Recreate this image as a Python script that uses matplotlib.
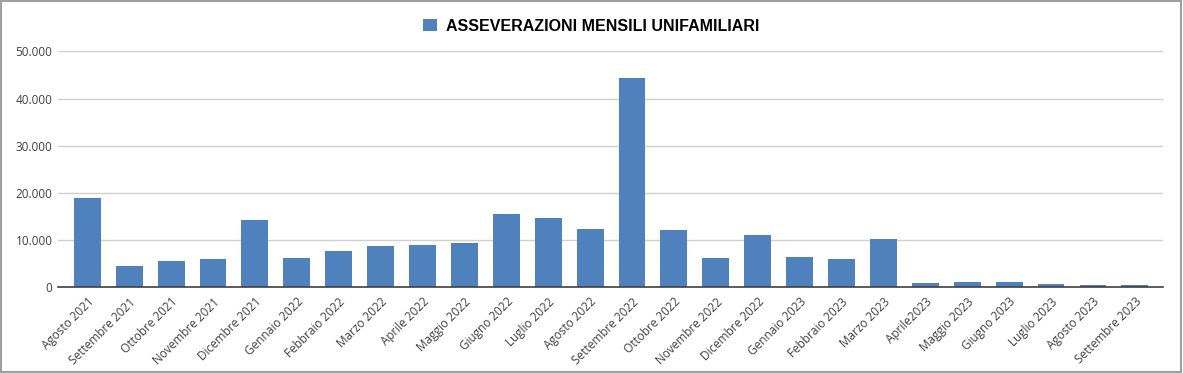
import matplotlib.pyplot as plt
from matplotlib.ticker import FuncFormatter
from matplotlib.patches import Rectangle

# monthly values
months = ["Agosto 2021", "Settembre 2021", "Ottobre 2021", "Novembre 2021", "Dicembre 2021",
          "Gennaio 2022", "Febbraio 2022", "Marzo 2022", "Aprile 2022", "Maggio 2022",
          "Giugno 2022", "Luglio 2022", "Agosto 2022", "Settembre 2022", "Ottobre 2022",
          "Novembre 2022", "Dicembre 2022", "Gennaio 2023", "Febbraio 2023", "Marzo 2023",
          "Aprile2023", "Maggio 2023", "Giugno 2023", "Luglio 2023", "Agosto 2023",
          "Settembre 2023"]
values = [18900, 4500, 5500, 5900, 14200,
          6200, 7600, 8700, 8900, 9300,
          15500, 14600, 12300, 44400, 12100,
          6200, 11000, 6400, 5900, 10200,
          850, 1050, 1050, 600, 400,
          400]
series_name = "ASSEVERAZIONI MENSILI UNIFAMILIARI"
yticks = [0, 10000, 20000, 30000, 40000, 50000]

fig = plt.figure(figsize=(11.83, 3.73), dpi=100)
ax = fig.add_axes([0.049, 0.2306, 0.934, 0.6314])

x = range(len(months))
ax.bar(x, values, width=0.64, color="#4F81BD", label=series_name, zorder=3)

ax.set_xlim(-0.70, len(months) - 0.33)
ax.set_ylim(0, 50000)
ax.set_yticks(yticks)
ax.yaxis.set_major_formatter(FuncFormatter(lambda v, p: f"{int(v):,}".replace(",", ".")))
ax.grid(axis="y", color="#D0D0D0", linewidth=1, zorder=0)

ax.set_xticks(list(x))
ax.set_xticklabels(months, rotation=45, ha="right", rotation_mode="anchor",
                   fontsize=8.5, family="Open Sans", color="#404040")
for lbl in ax.get_yticklabels():
    lbl.set_fontsize(8.5)
    lbl.set_family("Open Sans")
    lbl.set_color("#404040")
ax.tick_params(axis="both", length=0, pad=4)
ax.tick_params(axis="x", pad=6)

for s in ["top", "right", "left"]:
    ax.spines[s].set_visible(False)
ax.spines["bottom"].set_color("#404040")
ax.spines["bottom"].set_linewidth(1.2)
ax.spines["bottom"].set_zorder(4)

fig.legend(loc="center", bbox_to_anchor=(0.5, 0.93), frameon=False, handlelength=0.85,
           handleheight=0.85, handletextpad=0.6,
           prop={"family": "Liberation Sans", "weight": "bold", "size": 11.5})

# grey frame around the chart
fig.patches.append(Rectangle((0.001, 0.002), 0.997, 0.995, transform=fig.transFigure,
                             fill=False, edgecolor="#A0A0A0", linewidth=1.5))

fig.savefig("out.png", dpi=100)
